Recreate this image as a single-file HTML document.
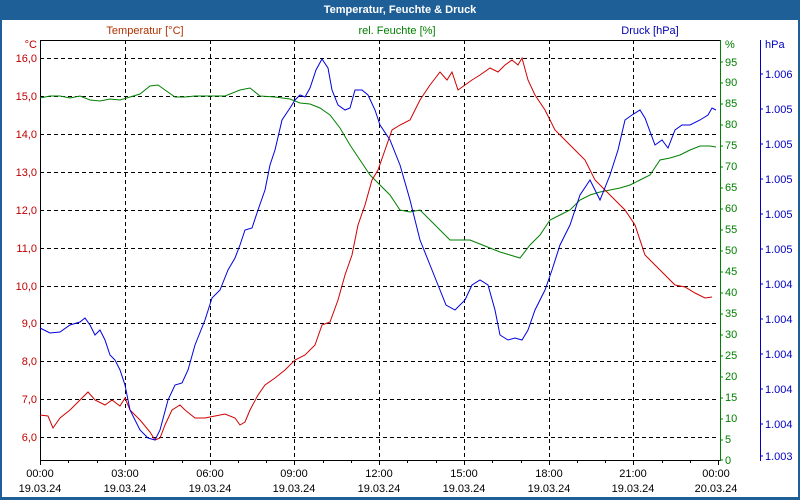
<!DOCTYPE html>
<html><head><style>
html,body{margin:0;padding:0;background:#fff}
svg{display:block;font-family:"Liberation Sans",sans-serif;font-size:11px}
</style></head><body>
<svg width="800" height="500" viewBox="0 0 800 500">
<rect x="0" y="0" width="800" height="500" fill="#1e5f98"/>
<rect x="2" y="20" width="796" height="477" fill="#fff"/>
<text x="400" y="13" text-anchor="middle" fill="#fff" font-weight="bold" font-size="11">Temperatur, Feuchte &amp; Druck</text>
<text x="145" y="34" text-anchor="middle" fill="#b03000">Temperatur [°C]</text>
<text x="397" y="34" text-anchor="middle" fill="#008000">rel. Feuchte [%]</text>
<text x="650" y="34" text-anchor="middle" fill="#0000b0">Druck [hPa]</text>
<g stroke="#000" stroke-dasharray="4,3" stroke-width="1">
<line x1="40" y1="58.5" x2="718" y2="58.5"/><line x1="40" y1="96.5" x2="718" y2="96.5"/>
<line x1="40" y1="134.5" x2="718" y2="134.5"/><line x1="40" y1="172.5" x2="718" y2="172.5"/>
<line x1="40" y1="210.5" x2="718" y2="210.5"/><line x1="40" y1="248.5" x2="718" y2="248.5"/>
<line x1="40" y1="286.5" x2="718" y2="286.5"/><line x1="40" y1="323.5" x2="718" y2="323.5"/>
<line x1="40" y1="361.5" x2="718" y2="361.5"/><line x1="40" y1="399.5" x2="718" y2="399.5"/>
<line x1="40" y1="437.5" x2="718" y2="437.5"/>
<line x1="125.5" y1="40" x2="125.5" y2="460"/><line x1="210.5" y1="40" x2="210.5" y2="460"/>
<line x1="294.5" y1="40" x2="294.5" y2="460"/><line x1="379.5" y1="40" x2="379.5" y2="460"/>
<line x1="464.5" y1="40" x2="464.5" y2="460"/><line x1="549.5" y1="40" x2="549.5" y2="460"/>
<line x1="633.5" y1="40" x2="633.5" y2="460"/>
</g>
<g stroke="#000"><line x1="40.5" y1="40" x2="40.5" y2="460"/><line x1="40" y1="40.5" x2="720" y2="40.5"/><line x1="40" y1="460.5" x2="720" y2="460.5"/>
<line x1="40.5" y1="460" x2="40.5" y2="465"/><line x1="68.5" y1="460" x2="68.5" y2="463"/><line x1="97.5" y1="460" x2="97.5" y2="463"/><line x1="125.5" y1="460" x2="125.5" y2="465"/><line x1="153.5" y1="460" x2="153.5" y2="463"/><line x1="182.5" y1="460" x2="182.5" y2="463"/><line x1="210.5" y1="460" x2="210.5" y2="465"/><line x1="238.5" y1="460" x2="238.5" y2="463"/><line x1="266.5" y1="460" x2="266.5" y2="463"/><line x1="294.5" y1="460" x2="294.5" y2="465"/><line x1="323.5" y1="460" x2="323.5" y2="463"/><line x1="351.5" y1="460" x2="351.5" y2="463"/><line x1="379.5" y1="460" x2="379.5" y2="465"/><line x1="407.5" y1="460" x2="407.5" y2="463"/><line x1="436.5" y1="460" x2="436.5" y2="463"/><line x1="464.5" y1="460" x2="464.5" y2="465"/><line x1="492.5" y1="460" x2="492.5" y2="463"/><line x1="521.5" y1="460" x2="521.5" y2="463"/><line x1="549.5" y1="460" x2="549.5" y2="465"/><line x1="577.5" y1="460" x2="577.5" y2="463"/><line x1="605.5" y1="460" x2="605.5" y2="463"/><line x1="633.5" y1="460" x2="633.5" y2="465"/><line x1="662.5" y1="460" x2="662.5" y2="463"/><line x1="690.5" y1="460" x2="690.5" y2="463"/><line x1="718.5" y1="460" x2="718.5" y2="465"/>
</g>
<g fill="#c00000" text-anchor="end">
<text x="37" y="48" fill="#c00000">°C</text>
<text x="37" y="62">16,0</text><text x="37" y="100">15,0</text><text x="37" y="138">14,0</text><text x="37" y="176">13,0</text><text x="37" y="214">12,0</text><text x="37" y="252">11,0</text><text x="37" y="290">10,0</text><text x="37" y="327">9,0</text><text x="37" y="365">8,0</text><text x="37" y="403">7,0</text><text x="37" y="441">6,0</text>
</g>
<g stroke="#008000"><line x1="720.5" y1="40" x2="720.5" y2="461"/></g>
<g fill="#008000" stroke="none">
<text x="725" y="48">%</text>
<text x="725" y="66">95</text><text x="725" y="86">90</text><text x="725" y="107">85</text><text x="725" y="128">80</text><text x="725" y="149">75</text><text x="725" y="170">70</text><text x="725" y="191">65</text><text x="725" y="212">60</text><text x="725" y="233">55</text><text x="725" y="254">50</text><text x="725" y="275">45</text><text x="725" y="296">40</text><text x="725" y="317">35</text><text x="725" y="338">30</text><text x="725" y="359">25</text><text x="725" y="380">20</text><text x="725" y="401">15</text><text x="725" y="422">10</text><text x="725" y="443">5</text><text x="725" y="464">0</text>
</g>
<g stroke="#008000"><path d="M720 62h3M720 83h3M720 104h3M720 125h3M720 146h3M720 167h3M720 188h3M720 209h3M720 230h3M720 251h3M720 272h3M720 293h3M720 314h3M720 335h3M720 356h3M720 377h3M720 398h3M720 419h3M720 440h3M720 460h3"/></g>
<g stroke="#0000c0"><line x1="760.5" y1="40" x2="760.5" y2="461"/><path d="M760 74h3M760 109h3M760 144h3M760 179h3M760 214h3M760 249h3M760 284h3M760 319h3M760 354h3M760 389h3M760 424h3M760 456h3"/></g>
<g fill="#0000c0">
<text x="765" y="48">hPa</text>
<text x="765" y="78">1.006</text><text x="765" y="113">1.005</text><text x="765" y="148">1.005</text><text x="765" y="183">1.005</text><text x="765" y="218">1.005</text><text x="765" y="253">1.005</text><text x="765" y="288">1.004</text><text x="765" y="323">1.004</text><text x="765" y="358">1.004</text><text x="765" y="393">1.004</text><text x="765" y="428">1.004</text><text x="765" y="460">1.003</text>
</g>
<g fill="#000" text-anchor="middle">
<text x="40" y="477">00:00</text><text x="125" y="477">03:00</text><text x="210" y="477">06:00</text><text x="294" y="477">09:00</text><text x="379" y="477">12:00</text><text x="464" y="477">15:00</text><text x="549" y="477">18:00</text><text x="633" y="477">21:00</text><text x="716" y="477">00:00</text>
<text x="40" y="492">19.03.24</text><text x="125" y="492">19.03.24</text><text x="210" y="492">19.03.24</text><text x="294" y="492">19.03.24</text><text x="379" y="492">19.03.24</text><text x="464" y="492">19.03.24</text><text x="549" y="492">19.03.24</text><text x="633" y="492">19.03.24</text><text x="716" y="492">20.03.24</text>
</g>
<polyline fill="none" stroke="#008000" points="40,98 50,96 60,96 70,98 80,96 90,100 100,101 110,99 120,100 130,97 140,94 150,86 158,85 165,90 175,97 185,97 195,96 210,96 225,96 240,90 250,88 260,96 275,97 290,99 300,103 310,104 320,108 330,115 340,128 350,145 360,160 370,175 380,185 390,195 400,210 410,212 420,210 430,220 440,230 450,240 460,240 470,240 480,244 490,248 500,252 510,255 520,258 530,245 540,235 550,220 560,215 570,210 580,200 590,195 600,192 610,190 620,188 630,185 640,180 650,175 660,160 670,158 680,155 690,150 700,146 710,146 716,147"/>
<polyline fill="none" stroke="#d00000" points="40,415 48,416 53,428 60,418 70,410 80,400 88,392 95,400 105,405 112,400 120,406 125,398 130,410 140,420 150,432 155,440 160,438 165,425 172,410 180,405 185,410 195,418 205,418 215,416 225,414 235,418 240,425 245,422 250,410 258,395 265,385 275,378 285,370 295,360 305,355 315,345 322,325 330,322 338,300 345,275 352,255 358,225 365,205 372,180 378,170 385,150 392,130 400,125 410,120 420,100 430,85 440,72 447,80 452,72 458,90 465,85 472,80 480,75 490,68 498,72 505,65 512,60 518,65 522,58 528,80 535,95 545,110 555,130 565,140 575,150 585,160 595,180 605,190 615,200 625,210 635,225 645,255 655,265 665,275 675,285 685,287 695,293 705,298 712,297"/>
<polyline fill="none" stroke="#0000e0" points="40,328 50,333 60,332 70,325 80,322 85,318 90,325 95,335 100,330 105,340 110,355 115,360 120,370 125,385 130,410 140,430 148,438 155,440 160,430 168,400 175,385 182,383 188,370 195,345 205,320 212,298 220,290 228,270 235,258 240,245 245,230 252,228 258,210 265,190 270,165 275,150 282,120 290,108 295,100 300,95 305,97 310,88 316,70 322,59 328,68 332,90 338,105 345,110 350,108 355,90 362,90 368,95 375,110 380,125 390,140 400,165 410,200 420,240 430,265 440,290 446,305 455,310 465,300 472,285 480,280 488,285 495,310 500,335 508,340 515,338 522,340 528,330 535,310 545,290 552,270 560,245 570,225 580,195 590,180 595,190 600,200 610,175 618,150 625,120 632,115 640,110 645,118 655,145 662,140 668,148 675,130 682,125 690,125 700,120 708,115 712,108 716,110"/>
</svg>
</body></html>
